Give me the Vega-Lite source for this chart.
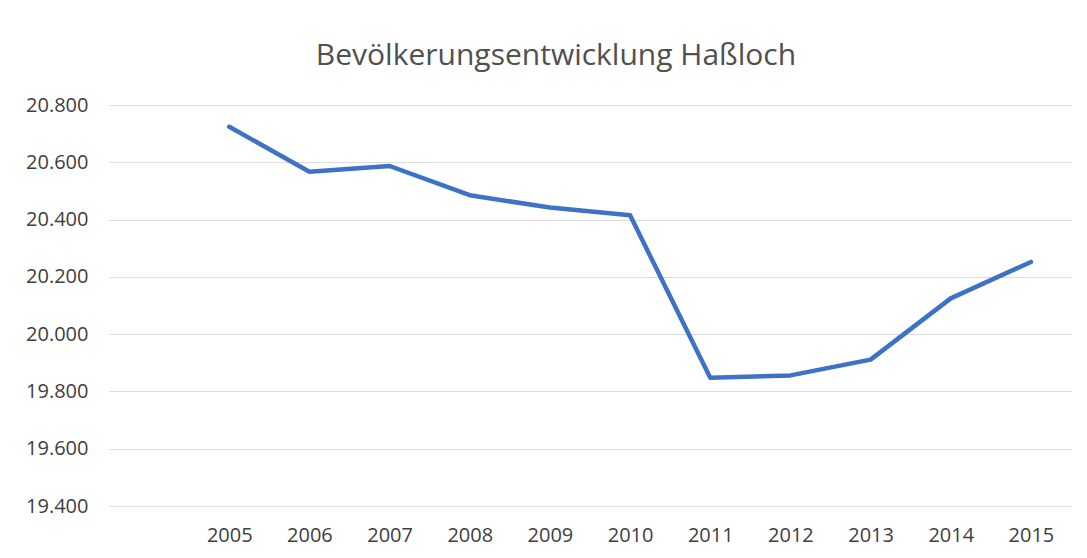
{
  "$schema": "https://vega.github.io/schema/vega-lite/v6.json",
  "width": 962,
  "height": 401,
  "autosize": {"type": "none"},
  "padding": {"left": 109, "top": 105, "right": 16, "bottom": 52},
  "background": "white",
  "config": {
    "locale": {"number": {"decimal": ",", "thousands": ".", "grouping": [3], "currency": ["", " €"]}},
    "view": {"stroke": null},
    "font": "Open Sans"
  },
  "title": {
    "text": "Bevölkerungsentwicklung Haßloch",
    "fontSize": 30,
    "fontWeight": "normal",
    "color": "#505050",
    "font": "Open Sans",
    "anchor": "middle",
    "dx": -34,
    "offset": 24
  },
  "data": {
    "values": [
      {"Jahr": "2005", "Einwohner": 20724},
      {"Jahr": "2006", "Einwohner": 20567},
      {"Jahr": "2007", "Einwohner": 20587},
      {"Jahr": "2008", "Einwohner": 20485},
      {"Jahr": "2009", "Einwohner": 20442},
      {"Jahr": "2010", "Einwohner": 20415},
      {"Jahr": "2011", "Einwohner": 19848},
      {"Jahr": "2012", "Einwohner": 19856},
      {"Jahr": "2013", "Einwohner": 19911},
      {"Jahr": "2014", "Einwohner": 20125},
      {"Jahr": "2015", "Einwohner": 20252}
    ]
  },
  "mark": {"type": "line", "color": "#3d72c6", "strokeWidth": 4.5, "strokeJoin": "round", "strokeCap": "round"},
  "encoding": {
    "x": {
      "field": "Jahr",
      "type": "ordinal",
      "sort": null,
      "scale": {"domain": [" ", "2005", "2006", "2007", "2008", "2009", "2010", "2011", "2012", "2013", "2014", "2015"], "padding": 0.5},
      "axis": {
        "title": null,
        "labelAngle": 0,
        "labelFontSize": 20,
        "labelColor": "#404040",
        "labelFont": "Open Sans",
        "labelPadding": 19,
        "ticks": false,
        "domain": false,
        "grid": false
      }
    },
    "y": {
      "field": "Einwohner",
      "type": "quantitative",
      "scale": {"domain": [19400, 20800], "zero": false, "nice": false},
      "axis": {
        "title": null,
        "values": [19400, 19600, 19800, 20000, 20200, 20400, 20600, 20800],
        "format": ",d",
        "labelFontSize": 20,
        "labelColor": "#404040",
        "labelFont": "Open Sans",
        "labelPadding": 21,
        "ticks": false,
        "domain": false,
        "grid": true,
        "gridColor": "#dcdcdc",
        "gridWidth": 1
      }
    }
  }
}
